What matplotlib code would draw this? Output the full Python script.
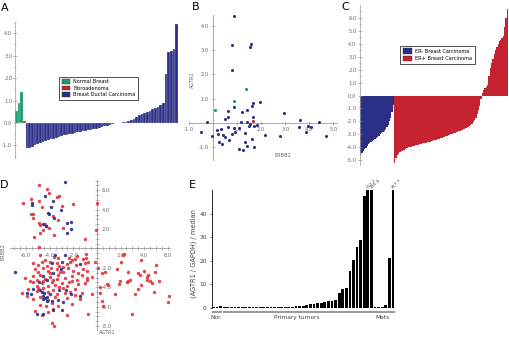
import numpy as np
import matplotlib
matplotlib.use("Agg")
import matplotlib.pyplot as plt
from matplotlib.patches import Patch

W, H = 510, 340

NAVY = "#2b2f86"
RED = "#c52330"
GREEN = "#1b9a6a"
DRED = "#e0323a"
GRAY = "#666666"

# ---- panel A: AGTR1 expression by sample ----
a_normal = [0.52, 0.9, 1.4]
a_fibro = [0.1]
a_ductal = [-1.1, -1.1, -1.05, -1.0, -0.95, -0.9, -0.85, -0.8, -0.75, -0.72,
            -0.7, -0.67, -0.62, -0.6, -0.55, -0.52, -0.5, -0.47, -0.45, -0.42,
            -0.4, -0.37, -0.35, -0.33, -0.3, -0.27, -0.25, -0.22, -0.2, -0.15,
            -0.12, -0.08, -0.05, -0.02, 0.0, 0.02, 0.03, 0.05, 0.1, 0.15,
            0.2, 0.28, 0.35, 0.42, 0.45, 0.5, 0.55, 0.62, 0.68, 0.72,
            0.82, 0.9, 2.2, 3.15, 3.2, 3.3, 4.4]

# ---- panel B: ERBB2 vs AGTR1 ----
b_ductal_x = [0.875, 0.78, 1.58, 1.54, 0.79, 1.68, 1.62, 1.96, 0.85, 0.6,
              1.43, 1.21, 0.64, 0.5, -0.24, -0.5, -0.03, 0.15, 0.22, 0.33,
              0.4, 0.5, 0.63, 0.85, 0.9, 0.78, 0.65, 0.26, 0.39, 1.08,
              1.17, 1.43, 1.51, 1.65, 1.54, 1.71, 1.82, 1.31, 1.62, 1.33,
              1.4, 1.71, 1.08, 1.26, 2.14, 2.78, 2.95, 3.63, 3.56, 3.93,
              3.88, 4.07, 4.4, 4.71]
b_ductal_y = [4.4, 3.23, 3.27, 3.13, 2.2, 0.84, 0.69, 0.88, 0.66, 0.48,
              0.55, 0.43, 0.25, 0.18, 0.04, -0.38, -0.55, -0.3, -0.44, -0.27,
              -0.5, -0.58, -0.16, -0.2, -0.37, -0.44, -0.71, -0.78, -0.89, -0.23,
              0.04, 0.04, -0.14, 0.25, -0.03, -0.14, -0.1, -0.4, -0.65, -0.78,
              -0.95, -0.99, -1.09, -1.1, -0.51, -0.55, 0.4, 0.14, -0.16, -0.14,
              -0.37, -0.16, 0.03, -0.55]
b_normal_x = [0.08, 0.86, 1.36]
b_normal_y = [0.52, 0.89, 1.39]
b_fibro_x = [1.65]
b_fibro_y = [0.07]

# ---- panel C: ER- / ER+ ----
c_erneg = [-4.6, -4.45, -4.3, -4.15, -4.05, -3.9, -3.75, -3.65, -3.55, -3.5,
           -3.42, -3.35, -3.28, -3.2, -3.1, -3.0, -2.92, -2.82, -2.72, -2.6,
           -2.45, -2.25, -2.0, -1.7, -1.3, -0.7]
c_erpos = [-5.2, -4.85, -4.6, -4.5, -4.38, -4.3, -4.25, -4.2, -4.13, -4.08,
           -4.05, -4.0, -3.97, -3.95, -3.92, -3.88, -3.85, -3.82, -3.78, -3.76,
           -3.73, -3.7, -3.68, -3.65, -3.63, -3.6, -3.58, -3.55, -3.52, -3.5,
           -3.47, -3.44, -3.41, -3.37, -3.33, -3.3, -3.27, -3.23, -3.19, -3.15,
           -3.11, -3.07, -3.03, -2.99, -2.95, -2.91, -2.88, -2.85, -2.8, -2.76,
           -2.72, -2.68, -2.63, -2.58, -2.54, -2.48, -2.42, -2.35, -2.28, -2.18,
           -2.05, -1.9, -1.72, -1.45, -1.15, -0.8, -0.3, 0.2, 0.4, 0.55,
           0.65, 0.8, 1.5, 2.1, 2.5, 2.8, 3.2, 3.5, 3.75, 3.95,
           4.2, 4.3, 4.4, 4.6, 5.3, 6.0, 6.7]

# ---- panel D: AGTR1 vs ERBB2, ER- (blue) and ER+ (red) ----
d_neg = [(-2.71, 6.9), (-5.5, 4.67), (-5.47, 4.5), (-4.4, 5.46), (-3.76, 4.92),
         (-3.93, 4.23), (-3.05, 3.99), (-4.18, 3.71), (-4.04, 3.58), (-3.64, 3.13),
         (-4.55, 2.5), (-2.57, 2.61), (-2.2, 2.78), (-2.2, 1.99), (-2.51, 1.55),
         (-4.3, 2.3),
         (-6.95, -2.4), (-3.56, -0.62), (-2.71, -0.62), (-3.84, -1.47), (-2.99, -1.41),
         (-1.44, -1.58), (-3.05, -2.16), (-3.7, -2.5), (-4.55, -2.86), (-4.27, -3.27),
         (-4.89, -3.47), (-5.4, -4.15), (-5.97, -4.57), (-5.6, -4.74), (-4.55, -4.92),
         (-4.6, -5.19), (-4.4, -5.08), (-4.27, -5.36), (-3.98, -4.74), (-3.84, -5.43),
         (-3.28, -5.26), (-2.86, -5.53), (-2.2, -4.67), (-1.44, -4.85), (-3.22, -4.23),
         (-2.63, -4.23), (-5.11, -6.8), (-4.55, -6.7), (-3.76, -6.39), (-2.99, -6.36),
         (-4.83, -4.23), (-4.45, -4.6), (-4.2, -4.95), (-4.7, -4.5)]
d_pos = [(-4.9, 6.56), (-4.27, 6.15), (-4.04, 5.7), (-3.19, 5.46), (-3.36, 5.26),
         (-5.6, 5.08), (-4.89, 4.85), (-6.3, 4.67), (-2.06, 4.57), (-2.99, 4.33),
         (-4.69, 4.23), (-5.59, 3.54), (-5.4, 3.54), (-5.4, 3.13), (-3.7, 3.37),
         (-3.28, 2.89), (-4.92, 2.61), (-4.83, 2.44), (-4.4, 2.5), (-4.35, 2.33),
         (-4.55, 1.92), (-4.83, 1.58), (-3.62, 1.34), (-2.85, 2.16), (-5.31, 1.17),
         (-1.02, 1.0), (-0.08, 1.89), (0.03, 4.74), (-4.1, 2.1), (-4.89, 0.18),
         # lower left
         (-4.8, -0.7), (-2.4, -1.0), (-1.7, -0.8), (-1.2, -1.1), (-0.9, -0.6),
         (-2.1, -1.2), (-3.3, -1.0),
         (-5.4, -1.5), (-4.97, -1.7), (-4.69, -1.4), (-4.27, -1.8), (-3.42, -1.5),
         (-3.19, -1.85), (-2.57, -1.6), (-2.29, -1.4), (-1.78, -1.75), (-1.02, -1.5),
         (-0.73, -1.35),
         (-5.25, -2.1), (-4.97, -2.4), (-4.55, -2.0), (-4.12, -2.3), (-3.98, -2.55),
         (-3.42, -2.15), (-2.85, -2.45), (-2.43, -2.0), (-2.0, -2.3), (-1.58, -2.5),
         (-1.16, -2.1), (-0.82, -2.35),
         (-6.1, -3.0), (-5.4, -2.8), (-5.11, -3.2), (-4.83, -2.7), (-4.41, -3.1),
         (-3.98, -2.9), (-3.7, -3.25), (-3.28, -2.75), (-2.71, -3.05), (-2.15, -2.85),
         (-1.72, -3.2), (-1.3, -2.7), (-0.87, -3.0),
         (-5.4, -3.5), (-5.11, -3.85), (-4.69, -3.6), (-4.12, -3.9), (-3.84, -3.45),
         (-3.56, -3.75), (-2.99, -3.6), (-2.57, -3.9), (-2.15, -3.4), (-1.58, -3.7),
         (-1.02, -3.55),
         (-6.38, -4.6), (-5.82, -4.2), (-5.11, -4.4), (-4.55, -4.1), (-4.12, -4.5),
         (-3.7, -4.3), (-3.42, -4.65), (-2.85, -4.1), (-2.29, -4.45), (-1.86, -4.2),
         (-1.3, -4.55),
         (-5.96, -4.9), (-5.4, -5.2), (-4.83, -5.0), (-4.12, -5.3), (-3.56, -4.95),
         (-2.57, -5.1), (-1.86, -4.8), (-1.44, -5.25),
         (-4.83, -5.8), (-3.84, -5.6), (-3.28, -5.9), (-2.15, -5.7),
         (-5.25, -6.4), (-4.69, -6.9), (-4.12, -6.5), (-3.7, -6.2), (-2.57, -6.9),
         (-3.84, -7.66), (-3.64, -7.94),
         (-4.4, -1.2), (-3.9, -2.0), (-3.1, -2.4), (-4.6, -3.4), (-3.4, -3.1),
         (-2.4, -3.5), (-5.0, -4.1), (-3.2, -4.0), (-2.7, -4.6), (-4.3, -5.9),
         (-5.7, -3.4), (-1.9, -1.1), (-2.9, -1.9), (-4.0, -1.4), (-3.6, -0.9),
         # lower right
         (2.29, -0.52), (2.17, -0.62), (-0.17, -1.41), (0.11, -1.99), (0.4, -2.5),
         (0.68, -2.4), (1.67, -2.09), (2.0, -1.37), (3.73, -1.2), (5.0, -1.75),
         (4.92, -2.4), (4.0, -2.34), (3.5, -2.5), (2.65, -2.44), (4.35, -2.68),
         (4.27, -2.92), (4.2, -3.2), (4.49, -3.37), (4.63, -3.54), (3.64, -2.78),
         (2.8, -3.2), (2.51, -3.44), (2.65, -3.3), (1.95, -3.37), (1.89, -3.71),
         (3.73, -3.78), (5.25, -3.37), (3.5, -4.15), (3.22, -4.74), (4.83, -4.5),
         (5.99, -5.53), (6.1, -4.92), (1.53, -4.64), (0.82, -3.61), (0.96, -3.78),
         (0.25, -3.99), (0.25, -4.57), (0.4, -5.36), (0.54, -5.95), (-0.45, -4.74),
         (-0.79, -6.7), (3.0, -6.77), (-0.87, -3.2), (-0.45, -2.92), (-0.93, -0.93)]

# ---- panel E: qPCR ----
e_normal = [0.3, 0.3, 0.8]
e_primary = [0.25, 0.25, 0.25, 0.25, 0.25, 0.25, 0.3, 0.3, 0.3, 0.3,
             0.35, 0.35, 0.35, 0.4, 0.4, 0.45, 0.45, 0.5, 0.55, 0.6,
             0.9, 1.0, 1.0, 1.3, 1.5, 1.8, 2.0, 2.2, 2.6, 2.8,
             3.0, 3.5, 6.4, 8.0, 8.5, 15.7, 20.6, 26.0, 29.0, 47.5,
             112.2, 196.4]
e_mets = [0.3, 0.3, 0.5, 1.4, 21.3, 357.7]
e_ymax = 50.2


def px_box(x0, y0, x1, y1):
    return [x0 / W, 1 - y1 / H, (x1 - x0) / W, (y1 - y0) / H]


def small_ticks(ax, axis="both", pad=2.0):
    ax.tick_params(axis=axis, which="both", labelsize=3.7, colors="#888888",
                   labelcolor=GRAY, width=0.4, pad=pad)
    ax.tick_params(axis=axis, which="major", length=2.2)
    ax.tick_params(axis=axis, which="minor", length=1.5)


fig = plt.figure(figsize=(W / 100, H / 100), dpi=100)

# A
axA = fig.add_axes(px_box(15, 22, 178, 158))
n0 = len(a_normal)
axA.bar(np.arange(n0), a_normal, width=1.0, color=GREEN, edgecolor="white", lw=0.15)
axA.bar(np.arange(n0, n0 + 1), a_fibro, width=1.0, color=RED, edgecolor="white", lw=0.15)
xd = np.arange(n0 + 1, n0 + 1 + len(a_ductal))
axA.bar(xd, a_ductal, width=1.0, color=NAVY, edgecolor="white", lw=0.15)
axA.set_xlim(-0.5, n0 + len(a_ductal) + 0.5)
axA.set_ylim(-1.56, 4.49)
for s in ["top", "right", "bottom"]:
    axA.spines[s].set_visible(False)
axA.spines["left"].set_color("#999999")
axA.spines["left"].set_linewidth(0.5)
axA.set_xticks([])
axA.set_yticks([-1, 0, 1, 2, 3, 4])
axA.set_yticklabels([f"{v:.1f}" for v in [-1, 0, 1, 2, 3, 4]])
axA.set_yticks(np.arange(-1.5, 4.6, 0.5), minor=True)
small_ticks(axA, pad=0.8)
axA.tick_params(which="both", direction="inout")
axA.legend(handles=[Patch(facecolor=GREEN, edgecolor="#333", lw=0.3, label="Normal Breast"),
                    Patch(facecolor=RED, edgecolor="#333", lw=0.3, label="Fibroadenoma"),
                    Patch(facecolor=NAVY, edgecolor="#333", lw=0.3, label="Breast Ductal Carcinoma")],
           loc="upper left", bbox_to_anchor=(57 / W, 1 - 74 / H), bbox_transform=fig.transFigure,
           fontsize=3.6, frameon=True, fancybox=False, edgecolor="#333333", framealpha=1,
           handlelength=1.6, handleheight=1.0, labelspacing=0.3, borderpad=0.5,
           handletextpad=0.6).get_frame().set_linewidth(0.6)

# B
axB = fig.add_axes(px_box(189, 15, 337, 160))
axB.scatter(b_ductal_x, b_ductal_y, s=5, color=NAVY, lw=0, zorder=3)
axB.scatter(b_normal_x, b_normal_y, s=5, color=GREEN, lw=0, zorder=3)
axB.scatter(b_fibro_x, b_fibro_y, s=5, color=RED, lw=0, zorder=3)
axB.set_xlim(-1.0, 5.15)
axB.set_ylim(-1.53, 4.45)
for s in ["top", "right"]:
    axB.spines[s].set_visible(False)
for s in ["left", "bottom"]:
    axB.spines[s].set_position(("data", 0))
    axB.spines[s].set_color("#888888")
    axB.spines[s].set_linewidth(0.5)
axB.set_xticks([-1, 1, 2, 3, 4, 5])
axB.set_xticklabels([f"{v:.1f}" for v in [-1, 1, 2, 3, 4, 5]])
axB.set_yticks([-1, 1, 2, 3, 4])
axB.set_yticklabels([f"{v:.1f}" for v in [-1, 1, 2, 3, 4]])
small_ticks(axB)
axB.tick_params(direction="inout")
fig.text(192 / W, 1 - 80 / H, "AGTR1", rotation=90, fontsize=3.6, color=GRAY,
         ha="center", va="center")
fig.text(283 / W, 1 - 156 / H, "ERBB2", fontsize=3.6, color=GRAY, ha="center", va="center")

# C
axC = fig.add_axes(px_box(360, 5, 508, 165))
nb = len(c_erneg)
axC.bar(np.arange(nb), c_erneg, width=1.0, color=NAVY, lw=0)
axC.bar(np.arange(nb, nb + len(c_erpos)), c_erpos, width=1.0, color=RED, lw=0)
axC.set_xlim(-0.5, nb + len(c_erpos) - 0.5)
axC.set_ylim(-5.36, 6.98)
for s in ["top", "right", "bottom"]:
    axC.spines[s].set_visible(False)
axC.spines["left"].set_color("#999999")
axC.spines["left"].set_linewidth(0.5)
axC.set_xticks([])
yc = list(range(-5, 7))
axC.set_yticks(yc)
axC.set_yticklabels([f"{v:.1f}" for v in yc])
axC.set_yticks(np.arange(-5, 7.0, 0.5), minor=True)
small_ticks(axC, pad=1.5)
axC.tick_params(which="both", direction="inout")
axC.legend(handles=[Patch(facecolor=NAVY, edgecolor="#333", lw=0.3, label="ER- Breast Carcinoma"),
                    Patch(facecolor=RED, edgecolor="#333", lw=0.3, label="ER+ Breast Carcinoma")],
           loc="upper left", bbox_to_anchor=(398 / W, 1 - 43 / H), bbox_transform=fig.transFigure,
           fontsize=3.6, frameon=True, fancybox=False, edgecolor="#333333", framealpha=1,
           handlelength=1.8, handleheight=1.3, labelspacing=0.35, borderpad=0.6,
           handletextpad=0.6).get_frame().set_linewidth(0.6)

# D
axD = fig.add_axes(px_box(10, 180, 170, 330))
dnx, dny = zip(*d_neg)
dpx, dpy = zip(*d_pos)
axD.scatter(dpx, dpy, s=6, color=DRED, lw=0, alpha=0.9, zorder=3)
axD.scatter(dnx, dny, s=6, color=NAVY, lw=0, alpha=0.9, zorder=3)
axD.set_xlim(-7.37, 6.19)
axD.set_ylim(-8.4, 7.06)
for s in ["top", "left"]:
    axD.spines[s].set_visible(False)
for s in ["right", "bottom"]:
    axD.spines[s].set_position(("data", 0))
    axD.spines[s].set_color("#888888")
    axD.spines[s].set_linewidth(0.5)
axD.yaxis.set_ticks_position("right")
dx = [-6, -4, -2, 2, 4, 6]
dy = [-8, -6, -4, -2, 2, 4, 6]
axD.set_xticks(dx)
axD.set_xticklabels([f"{v:.1f}" for v in dx])
axD.set_yticks(dy)
axD.set_yticklabels([f"{v:.1f}" for v in dy])
axD.set_xticks(np.arange(-7, 6.1, 0.5), minor=True)
axD.set_yticks(np.arange(-8, 7.1, 0.5), minor=True)
small_ticks(axD)
axD.tick_params(which="major", direction="inout", length=3.2)
axD.tick_params(which="minor", direction="inout", length=2.2)
fig.text(3 / W, 1 - 252 / H, "ERBB2", rotation=90, fontsize=3.6, color=GRAY,
         ha="center", va="center")
fig.text(107 / W, 1 - 333 / H, "AGTR1", fontsize=3.6, color=GRAY, ha="center", va="center")

# E
axE = fig.add_axes(px_box(211.7, 190, 396, 308))
e_all = e_normal + e_primary + e_mets
xe = np.arange(len(e_all))
axE.bar(xe, np.minimum(e_all, e_ymax), width=0.78, color="black", lw=0)
axE.set_xlim(-0.5, (396 - 213.5) / 3.59)
axE.set_ylim(0, e_ymax)
for s in ["top", "right", "bottom"]:
    axE.spines[s].set_visible(False)
axE.spines["left"].set_linewidth(0.6)
axE.set_xticks([])
axE.set_yticks([0, 10, 20, 30, 40])
axE.tick_params(axis="y", labelsize=4.2, labelcolor="#444444", length=1.5, width=0.4, pad=2)
for i, v in enumerate(e_all):
    if v > e_ymax:
        axE.text(i - 0.3, e_ymax + 0.6, f"{v:.1f}", rotation=45, fontsize=3.2,
                 color="#444444", ha="left", va="center", rotation_mode="anchor")
n_nor, n_pri = len(e_normal), len(e_primary)
groups = [("Nor.", 0, n_nor - 1, 0.9),
          ("Primary tumors", n_nor, n_nor + n_pri - 1, 23.2),
          ("Mets", n_nor + n_pri, len(e_all) - 1, 47.2)]
for name, g0, g1, xt in groups:
    axE.hlines(-1.5, g0 - 0.45, g1 + 0.45, color="#999999", lw=1.4, clip_on=False)
    axE.text(xt, -4.0, name, fontsize=4.2, color="#444444", ha="center", va="center",
             clip_on=False)
fig.text(194 / W, 1 - 253 / H, "(AGTR1 / GAPDH) / median", rotation=90, fontsize=4.8,
         color="#444444", ha="center", va="center")

# panel letters
for lab, x, y in [("A", 5, 8), ("B", 196, 7), ("C", 345, 7), ("D", 4, 185), ("E", 192, 185)]:
    fig.text(x / W, 1 - y / H, lab, fontsize=8, ha="center", va="center")

fig.savefig("out.png", dpi=100)
